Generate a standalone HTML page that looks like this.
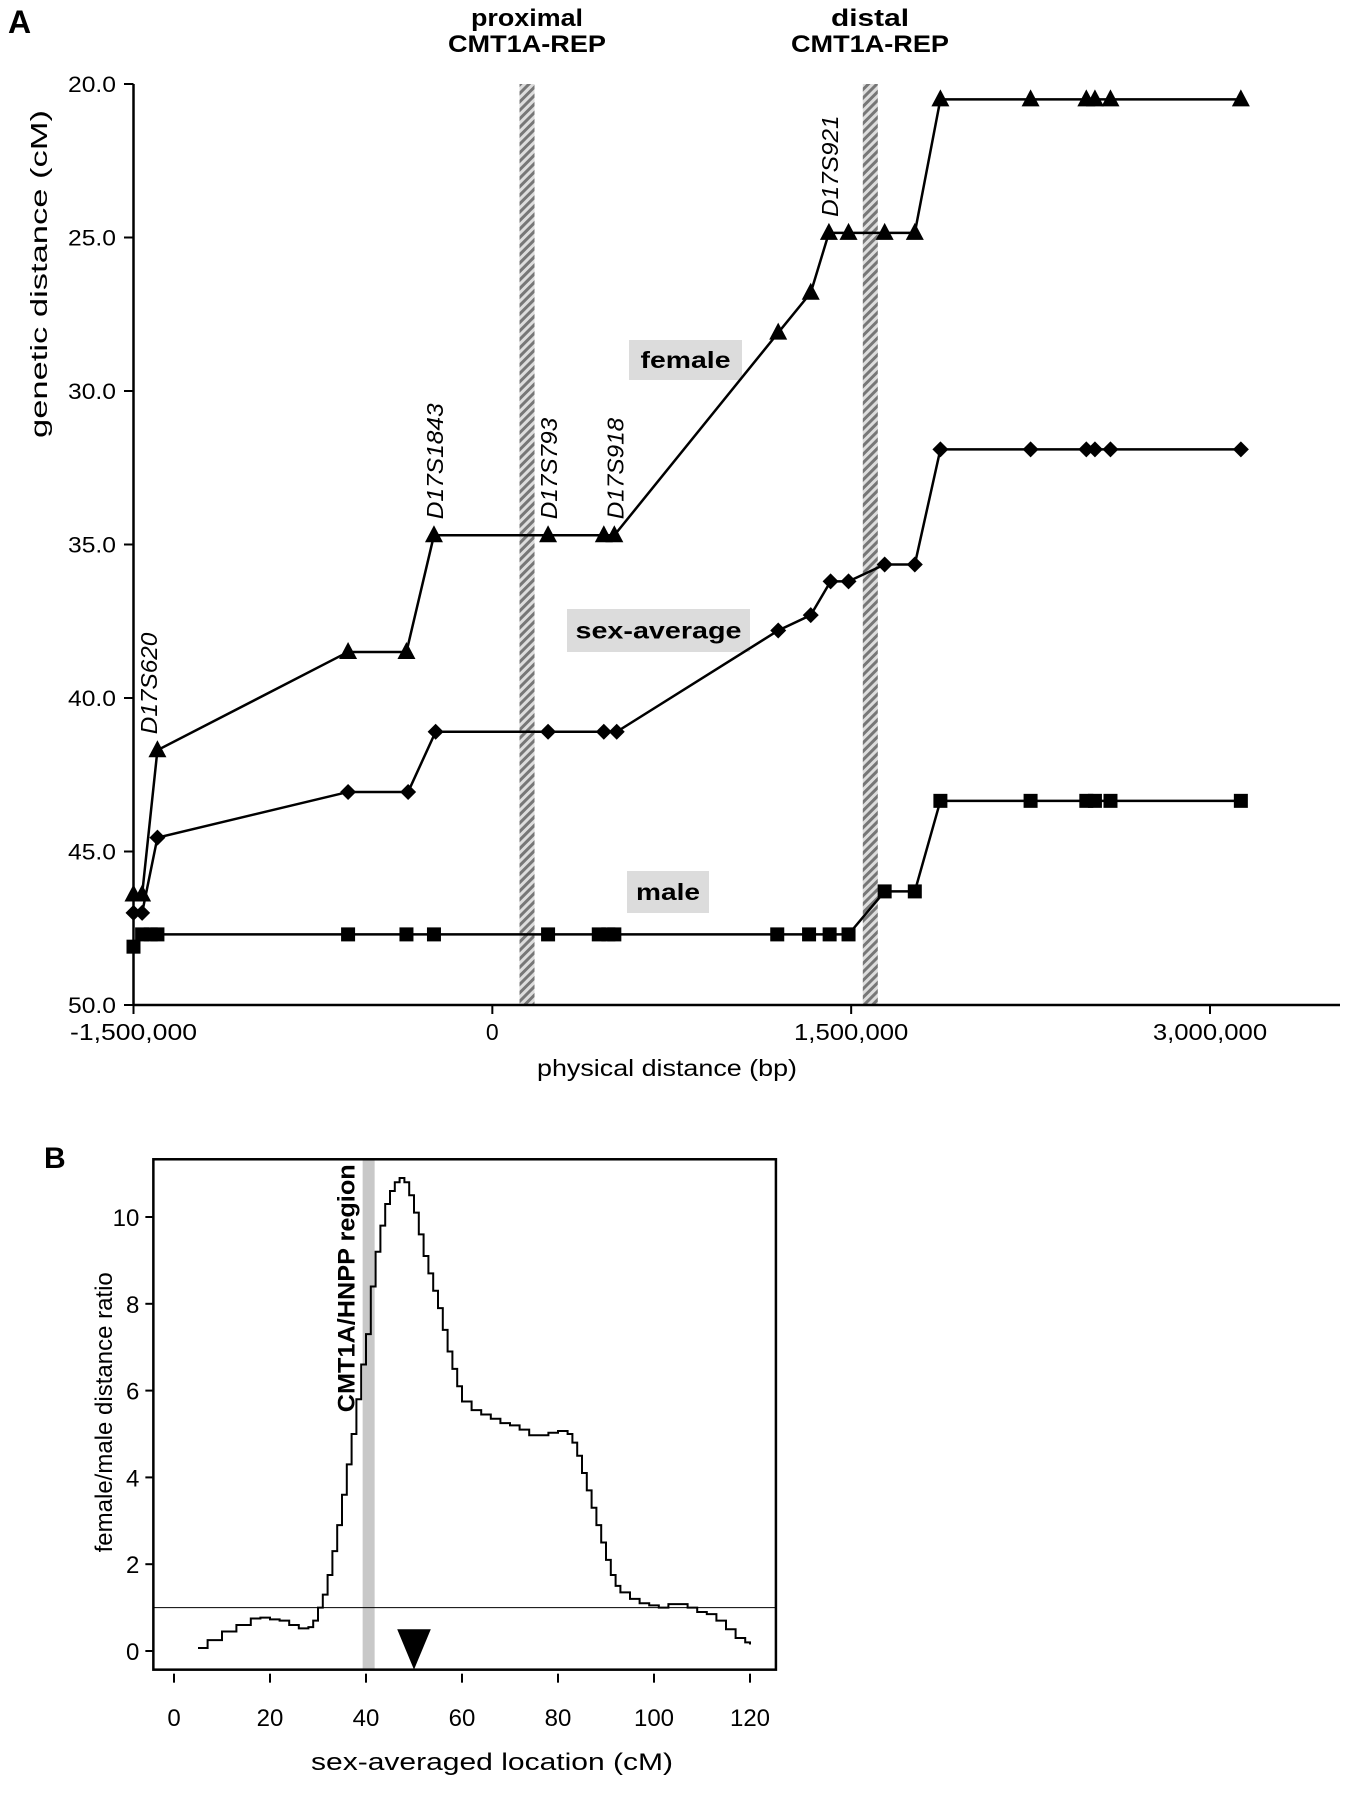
<!DOCTYPE html>
<html><head><meta charset="utf-8"><style>
html,body{margin:0;padding:0;background:#fff;}
svg{display:block;font-family:"Liberation Sans",sans-serif;}
</style></head><body>
<svg id="fig" width="1346" height="1800" viewBox="0 0 1346 1800">
<defs>
<pattern id="hatch" width="6" height="6" patternUnits="userSpaceOnUse" patternTransform="rotate(45)">
<rect width="6" height="6" fill="#ddd"/><rect width="3" height="6" fill="#777"/>
</pattern>
</defs>
<text x="8" y="33" font-size="32" font-weight="bold">A</text>
<text x="44" y="1168" font-size="30" font-weight="bold">B</text>
<g id="chartA"></g>
<g id="chartB"></g>
</svg>
<script>
// ---------- Chart A data ----------
const femaleX = [-1500000,-1464000,-1400000,-603000,-359000,-244000,233000,466000,510000,1195000,1331000,1407000,1489000,1640000,1766000,1873000,2250000,2483000,2519000,2584000,3129000];
const femaleY = [46.4,46.4,41.7,38.5,38.5,34.7,34.7,34.7,34.7,28.1,26.8,24.85,24.85,24.85,24.85,20.5,20.5,20.5,20.5,20.5,20.5];
const avgX = [-1500000,-1464000,-1400000,-603000,-352000,-237000,233000,466000,520000,1195000,1331000,1414000,1489000,1640000,1766000,1873000,2250000,2483000,2519000,2584000,3129000];
const avgY = [47.0,47.0,44.55,43.06,43.06,41.1,41.1,41.1,41.1,37.8,37.3,36.2,36.2,35.65,35.65,31.9,31.9,31.9,31.9,31.9,31.9];
const maleX = [-1500000,-1464000,-1428000,-1400000,-603000,-359000,-244000,233000,445000,485000,510000,1191000,1324000,1410000,1489000,1640000,1766000,1873000,2250000,2483000,2519000,2584000,3129000];
const maleY = [48.1,47.7,47.7,47.7,47.7,47.7,47.7,47.7,47.7,47.7,47.7,47.7,47.7,47.7,47.7,46.3,46.3,43.35,43.35,43.35,43.35,43.35,43.35];
const aYTicks = [20,25,30,35,40,45,50];
const aXTicks = [-1500000,0,1500000,3000000];
const aXTickLabels = ["-1,500,000","0","1,500,000","3,000,000"];
const repBars = [145000,1580000];
const markerNames = ["D17S620","D17S1843","D17S793","D17S918","D17S921"];
const markerX = [-1440000,-244000,233000,510000,1407000];
const markerY = [41.7,34.7,34.7,34.7,24.85];

// ---------- Chart B data ----------
const ratioX = [5,7,10,13,16,18,20,22,24,26,28,29,30,31,32,33,34,35,36,37,38,39,40,41,42,43,44,45,46,47,48,49,50,51,52,53,54,55,56,57,58,59,60,62,64,66,68,70,72,74,76,78,80,82,83,84,85,86,87,88,89,90,91,92,93,95,97,99,101,103,105,107,109,111,113,115,117,119,120];
const ratioY = [0.07,0.25,0.45,0.6,0.75,0.77,0.73,0.7,0.6,0.52,0.55,0.7,1.0,1.3,1.75,2.3,2.9,3.6,4.3,5.0,5.8,6.6,7.3,8.4,9.2,9.8,10.3,10.6,10.8,10.9,10.8,10.5,10.1,9.6,9.1,8.7,8.3,7.9,7.4,6.9,6.5,6.1,5.75,5.55,5.45,5.35,5.25,5.2,5.1,4.97,4.97,5.03,5.07,5.0,4.8,4.5,4.1,3.7,3.3,2.9,2.5,2.1,1.75,1.5,1.35,1.2,1.1,1.05,1.0,1.08,1.08,1.0,0.9,0.85,0.7,0.5,0.3,0.2,0.15];
const bXTicks = [0,20,40,60,80,100,120];
const bYTicks = [0,2,4,6,8,10];

const NS="http://www.w3.org/2000/svg";
function mk(parent,tag,attrs,text){const e=document.createElementNS(NS,tag);for(const k in attrs)e.setAttribute(k,attrs[k]);if(text!==undefined)e.textContent=text;parent.appendChild(e);return e;}
function fit(e,len){e.setAttribute('textLength',len);e.setAttribute('lengthAdjust','spacingAndGlyphs');}

// ---- Chart A ----
const A=document.getElementById('chartA');
const ax=v=>133.5+(v+1500000)*1076.5/4500000;
const ay=v=>84+(v-20)*30.7;
repBars.forEach((b,i)=>{const r=mk(A,'rect',{x:ax(b)-7.5,y:ay(20),width:15,height:ay(50)-ay(20),fill:'url(#hatch)'});

});
let l=mk(A,'line',{x1:133.5,y1:ay(20),x2:133.5,y2:ay(50),stroke:'#000','stroke-width':2.5});


l=mk(A,'line',{x1:133.5,y1:ay(50),x2:1340,y2:ay(50),stroke:'#000','stroke-width':2.5});


aYTicks.forEach(t=>{mk(A,'line',{x1:124,y1:ay(t),x2:133.5,y2:ay(t),stroke:'#000','stroke-width':2});
const tx=mk(A,'text',{x:116,y:ay(t)+8,'font-size':22,'text-anchor':'end'},t.toFixed(1));
fit(tx,48);

});
aXTicks.forEach((t,i)=>{mk(A,'line',{x1:ax(t),y1:ay(50),x2:ax(t),y2:ay(50)+9,stroke:'#000','stroke-width':2});
const tx=mk(A,'text',{x:ax(t),y:ay(50)+35,'font-size':23,'text-anchor':'middle'},aXTickLabels[i]);
if(aXTickLabels[i].length>1) fit(tx,aXTickLabels[i].length*12.7);

});
let t=mk(A,'text',{x:667,y:1076,'font-size':23,'text-anchor':'middle'},'physical distance (bp)');
fit(t,260);


t=mk(A,'text',{x:0,y:0,'font-size':23,'text-anchor':'middle',transform:'translate(47,274) rotate(-90)'},'genetic distance (cM)');
fit(t,328);


[['proximal',527,112],['distal',870,78]].forEach(([n,x,w],i)=>{
 const a=mk(A,'text',{x:x,y:26,'font-size':24,'font-weight':'bold','text-anchor':'middle'},n);
 fit(a,w);
 
 
 const b=mk(A,'text',{x:x,y:52,'font-size':24,'font-weight':'bold','text-anchor':'middle'},'CMT1A-REP');
 fit(b,158);
 
 });
[['female',629,340,113,40,90],['sex-average',567,609,183,43,166],['male',627,871,82,42,64]].forEach(([n,x,y,w,h,tl])=>{
 const r=mk(A,'rect',{x:x,y:y,width:w,height:h,fill:'#dcdcdc'});
 
 
 const tx=mk(A,'text',{x:x+w/2,y:y+h/2+8,'font-size':23,'font-weight':'bold','text-anchor':'middle'},n);
 fit(tx,tl);
 
 });
function series(xs,ys,name,shape){
 const pts=xs.map((x,i)=>ax(x)+','+ay(ys[i])).join(' ');
 const p=mk(A,'polyline',{points:pts,fill:'none',stroke:'#000','stroke-width':2.5});
 
 
 xs.forEach((x,i)=>{const cx=ax(x),cy=ay(ys[i]);let m;
  if(shape==='tri')m=mk(A,'polygon',{points:`${cx},${cy-10} ${cx-9},${cy+7} ${cx+9},${cy+7}`,fill:'#000'});
  else if(shape==='dia')m=mk(A,'polygon',{points:`${cx},${cy-8} ${cx+8},${cy} ${cx},${cy+8} ${cx-8},${cy}`,fill:'#000'});
  else m=mk(A,'rect',{x:cx-7,y:cy-7,width:14,height:14,fill:'#000'});
  
  });
}
series(maleX,maleY,'male','sq');
series(avgX,avgY,'sex-average','dia');
series(femaleX,femaleY,'female','tri');
markerNames.forEach((n,i)=>{const x=ax(markerX[i])+9,y=ay(markerY[i])-16;
 const tx=mk(A,'text',{x:0,y:0,'font-size':23,'font-style':'italic',transform:`translate(${x},${y}) rotate(-90)`},n);
 fit(tx,n.length*14.5);
 
 });

// ---- Chart B ----
const B=document.getElementById('chartB');
const bx=v=>174+v*4.8;
const by=v=>1651-v*43.4;
let r=mk(B,'rect',{x:bx(39.3),y:by(11.33),width:bx(41.8)-bx(39.3),height:by(-0.43)-by(11.33),fill:'#c8c8c8'});


r=mk(B,'rect',{x:bx(-4.3),y:by(11.33),width:bx(125.4)-bx(-4.3),height:by(-0.43)-by(11.33),fill:'none',stroke:'#000','stroke-width':2.5});


l=mk(B,'line',{x1:bx(-4.3),y1:by(1),x2:bx(125.4),y2:by(1),stroke:'#000','stroke-width':1});


bYTicks.forEach(v=>{mk(B,'line',{x1:bx(-4.3)-8,y1:by(v),x2:bx(-4.3),y2:by(v),stroke:'#000','stroke-width':2});
 const tx=mk(B,'text',{x:bx(-4.3)-14,y:by(v)+9,'font-size':24,'text-anchor':'end'},String(v));
 
 });
bXTicks.forEach(v=>{mk(B,'line',{x1:bx(v),y1:by(-0.43)+4,x2:bx(v),y2:by(-0.43)+13,stroke:'#000','stroke-width':2});
 const tx=mk(B,'text',{x:bx(v),y:1726,'font-size':24,'text-anchor':'middle'},String(v));
 
 });
t=mk(B,'text',{x:492,y:1770,'font-size':24,'text-anchor':'middle'},'sex-averaged location (cM)');
fit(t,362);


t=mk(B,'text',{x:0,y:0,'font-size':24,'text-anchor':'middle',transform:`translate(112,${by(5.5)}) rotate(-90)`},'female/male distance ratio');


t=mk(B,'text',{x:0,y:0,'font-size':24,'font-weight':'bold',transform:`translate(${bx(37.6)},${by(5.5)}) rotate(-90)`},'CMT1A/HNPP region');
fit(t,248);


let d='';ratioX.forEach((x,i)=>{d+=(i?' H':'M'+bx(x)+' '+by(ratioY[i])+' H')+bx(x)+(i?' V'+by(ratioY[i]):'');});
const c=mk(B,'path',{d:d,fill:'none',stroke:'#000','stroke-width':2});


const tri=mk(B,'polygon',{points:`${bx(46.5)},${by(0.5)} ${bx(53.5)},${by(0.5)} ${bx(50)},${by(-0.43)}`,fill:'#000'});


</script>
</body></html>
